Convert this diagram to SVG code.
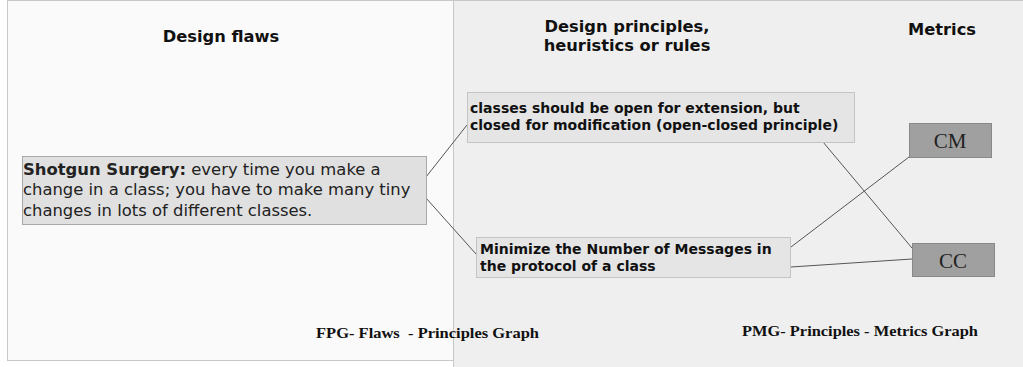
<svg xmlns="http://www.w3.org/2000/svg" width="1023" height="367" viewBox="0 0 1023 367">
<style>
.title{font-family:"DejaVu Sans",Verdana,sans-serif;font-weight:bold;font-size:16.3px;fill:#111;text-anchor:middle}
.flaw{font-family:"DejaVu Sans",Verdana,sans-serif;font-size:16.4px;fill:#222}
.prin{font-family:"DejaVu Sans",Verdana,sans-serif;font-weight:bold;font-size:14px;fill:#111}
.met{font-family:"Liberation Serif","Times New Roman",serif;font-size:21px;fill:#222;text-anchor:middle}
.cap{font-family:"Liberation Serif","Times New Roman",serif;font-weight:bold;font-size:15.5px;fill:#111}
.pbox{fill:#e5e5e5;stroke:#c4c4c4;stroke-width:1}
.mbox{fill:#a0a0a0;stroke:#888;stroke-width:1}
.conn line{stroke:#555;stroke-width:1}
</style>
<rect x="0" y="0" width="1023" height="367" fill="#ffffff"/>
<g id="panel-fpg">
<rect x="7.5" y="0.5" width="446" height="360" fill="#fafafa" stroke="#c8c8c8"/>
</g>
<g id="panel-pmg">
<rect x="453.5" y="0.5" width="575" height="370" fill="#efefef" stroke="#c8c8c8"/>
</g>
<g id="titles">
<text class="title" x="221" y="42">Design flaws</text>
<text class="title" x="627" y="32">Design principles,</text>
<text class="title" x="627" y="51">heuristics or rules</text>
<text class="title" x="942" y="35">Metrics</text>
</g>
<g class="conn" id="connectors">
<line x1="426" y1="177" x2="467" y2="125"/>
<line x1="426" y1="198" x2="476" y2="254"/>
<line x1="823" y1="142" x2="912" y2="248"/>
<line x1="791" y1="247" x2="909" y2="157"/>
<line x1="791" y1="267" x2="912" y2="259"/>
</g>
<g id="node-shotgun">
<rect x="22.5" y="156.5" width="404" height="68" fill="#e0e0e0" stroke="#a8a8a8"/>
<text class="flaw" x="23" y="175"><tspan font-weight="bold">Shotgun Surgery:</tspan> every time you make a</text>
<text class="flaw" x="23" y="195">change in a class; you have to make many tiny</text>
<text class="flaw" x="23" y="216">changes in lots of different classes.</text>
</g>
<g id="node-ocp">
<rect class="pbox" x="467.5" y="92.5" width="387" height="50"/>
<text class="prin" x="470" y="113">classes should be open for extension, but</text>
<text class="prin" x="470" y="130">closed for modification (open-closed principle)</text>
</g>
<g id="node-msgs">
<rect class="pbox" x="476.5" y="237.5" width="314" height="40"/>
<text class="prin" x="480" y="254">Minimize the Number of Messages in</text>
<text class="prin" x="480" y="271">the protocol of a class</text>
</g>
<g id="node-cm">
<rect class="mbox" x="909.5" y="123.5" width="82" height="34"/>
<text class="met" x="950" y="148">CM</text>
</g>
<g id="node-cc">
<rect class="mbox" x="912.5" y="243.5" width="82" height="33"/>
<text class="met" x="953" y="268">CC</text>
</g>
<g id="captions">
<text class="cap" x="316" y="338" textLength="223" lengthAdjust="spacingAndGlyphs">FPG- Flaws&#160; - Principles Graph</text>
<text class="cap" x="742" y="336" textLength="236" lengthAdjust="spacingAndGlyphs">PMG- Principles - Metrics Graph</text>
</g>
</svg>
